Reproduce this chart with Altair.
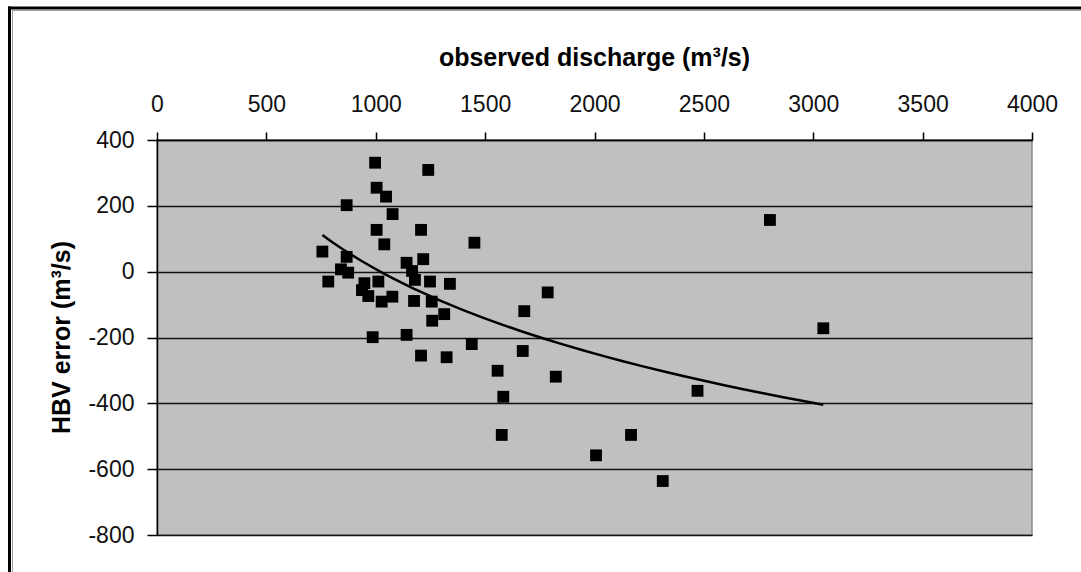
import altair as alt
import pandas as pd

# observed discharge (m3/s) and HBV error (m3/s)
discharge = [997, 1004, 1047, 867, 1077, 1004, 1039, 756, 867, 841, 874, 783, 948, 1012,
             966, 1027, 1076, 986, 1240, 1207, 1451, 1141, 1217, 1179, 1248, 1339, 1175,
             1256, 1313, 1258, 1141, 1439, 1207, 1324, 1786, 1679, 1672, 1557, 1823, 1583,
             1576, 2167, 2007, 2312, 2802, 3046, 2471, 937, 1166]
hbv_error = [331, 255, 228, 202, 175, 127, 83, 61, 45, 7, -3, -30, -35, -30,
             -74, -91, -76, -199, 309, 127, 88, 27, 38, -25, -30, -37, -89,
             -91, -129, -149, -192, -220, -255, -260, -63, -120, -241, -301, -319, -380,
             -496, -496, -558, -636, 157, -172, -362, -56, 2]

x_ticks = [0, 500, 1000, 1500, 2000, 2500, 3000, 3500, 4000]
y_ticks = [-800, -600, -400, -200, 0, 200, 400]

df = pd.DataFrame({"q": discharge, "err": hbv_error})

LABEL_FONT = "Liberation Sans"
TITLE_FONT = "Liberation Sans"

x_enc = alt.X(
    "q:Q",
    scale=alt.Scale(domain=[0, 4000], nice=False, zero=False),
    axis=alt.Axis(
        orient="top", values=x_ticks, title="observed discharge (m³/s)",
        grid=False, domainColor="black", domainWidth=1.5,
        tickColor="black", tickSize=8, tickWidth=1.5,
        labelFont=LABEL_FONT, labelFontSize=23, labelColor="#111111",
        labelPadding=21, labelBaseline="alphabetic", labelFlush=False,
        labelExpr="'' + datum.value",
        titleFont=TITLE_FONT, titleFontSize=25, titleFontWeight="bold", titleColor="black",
        titleX=437, titleY=-75, titleAlign="center", titleBaseline="alphabetic",
    ),
)
y_enc = alt.Y(
    "err:Q",
    scale=alt.Scale(domain=[-800, 400], nice=False, zero=False),
    axis=alt.Axis(
        values=y_ticks, title="HBV error (m³/s)",
        grid=True, gridColor="#111111", gridWidth=1.6,
        domainColor="black", domainWidth=1.5,
        tickColor="black", tickSize=10, tickWidth=1.5,
        labelFont=LABEL_FONT, labelFontSize=23, labelColor="#111111",
        labelPadding=13, labelExpr="'' + datum.value",
        titleFont=TITLE_FONT, titleFontSize=25, titleFontWeight="bold", titleColor="black",
        titleX=-88, titleY=197, titleAngle=-90, titleAlign="center",
        titleBaseline="alphabetic",
    ),
)

points = alt.Chart(df).mark_square(filled=True, color="black", opacity=1, size=140).encode(
    x=x_enc, y=y_enc
)

trend = alt.Chart(df).transform_regression("q", "err", method="log").mark_line(
    color="black", strokeWidth=2.5
).encode(x="q:Q", y="err:Q")

frame_data = alt.Data(values=[{"k": 1}])
left_black = alt.Chart(frame_data).mark_rule(color="black", strokeWidth=3).encode(
    x=alt.value(-147.5), y=alt.value(-133.5), y2=alt.value(440)
)
left_gray = alt.Chart(frame_data).mark_rule(color="#a0a0a0", strokeWidth=1).encode(
    x=alt.value(-144.5), y=alt.value(-130.5), y2=alt.value(440)
)
top_black = alt.Chart(frame_data).mark_rule(color="black", strokeWidth=3).encode(
    x=alt.value(-149), x2=alt.value(930), y=alt.value(-132)
)
top_gray = alt.Chart(frame_data).mark_rule(color="#a0a0a0", strokeWidth=1).encode(
    x=alt.value(-145), x2=alt.value(930), y=alt.value(-129.5)
)

chart = alt.layer(points, trend, left_black, left_gray, top_black, top_gray).properties(
    width=875, height=395,
    autosize=alt.AutoSizeParams(type="none"),
    padding={"left": 157, "top": 140, "right": 49, "bottom": 37},
    background="white",
).configure_view(
    fill="#c0c0c0", stroke="#8a8a8a", strokeWidth=1.5
)

chart.save("out.html", embed_options={"renderer": "svg", "actions": False})
